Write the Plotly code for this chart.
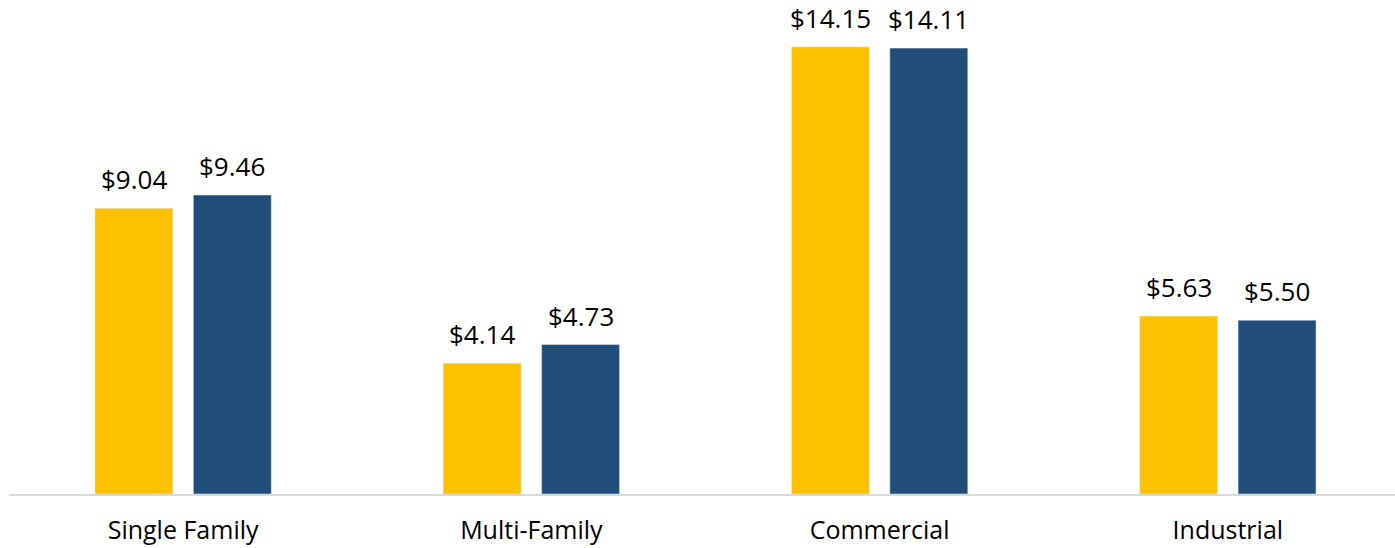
import plotly.graph_objects as go

categories = ["Single Family", "Multi-Family", "Commercial", "Industrial"]
series1_values = [9.04, 4.14, 14.15, 5.63]
series2_values = [9.46, 4.73, 14.11, 5.50]
series_names = ["Series 1", "Series 2"]
colors = ["#FFC000", "#1F4E79"]

BARGAP = 0.4347
FONT = "Open Sans"

fig = go.Figure()
for name, vals, col in zip(series_names, [series1_values, series2_values], colors):
    fig.add_trace(go.Bar(
        x=categories, y=vals, name=name, marker_color=col,
    ))

# value labels above bars
slot = (1 - BARGAP) / 2
for k, vals in enumerate([series1_values, series2_values]):
    off = (k - 0.5) * slot
    for i, v in enumerate(vals):
        fig.add_annotation(
            x=i + off, y=v, xref="x", yref="y", text=f"${v:.2f}",
            showarrow=False, yanchor="bottom", yshift=9,
            font=dict(family=FONT, size=26, color="#000000"),
        )

fig.update_layout(
    width=1395, height=548,
    margin=dict(l=9, r=0, t=20, b=54),
    paper_bgcolor="white", plot_bgcolor="white",
    barmode="group", bargap=BARGAP, bargroupgap=0.208,
    showlegend=False,
    font=dict(family=FONT, size=25, color="#000000"),
)
fig.update_xaxes(
    range=[-0.5, 3.48], showline=True, linecolor="#D9D9D9", linewidth=2,
    ticks="", showgrid=False, ticklabelstandoff=13,
    tickfont=dict(family=FONT, size=25, color="#000000"),
)
fig.update_yaxes(range=[0, 15], visible=False, showgrid=False)

fig.write_html("out.html", config={"displayModeBar": False},
               post_script="document.body.style.margin='0';")
